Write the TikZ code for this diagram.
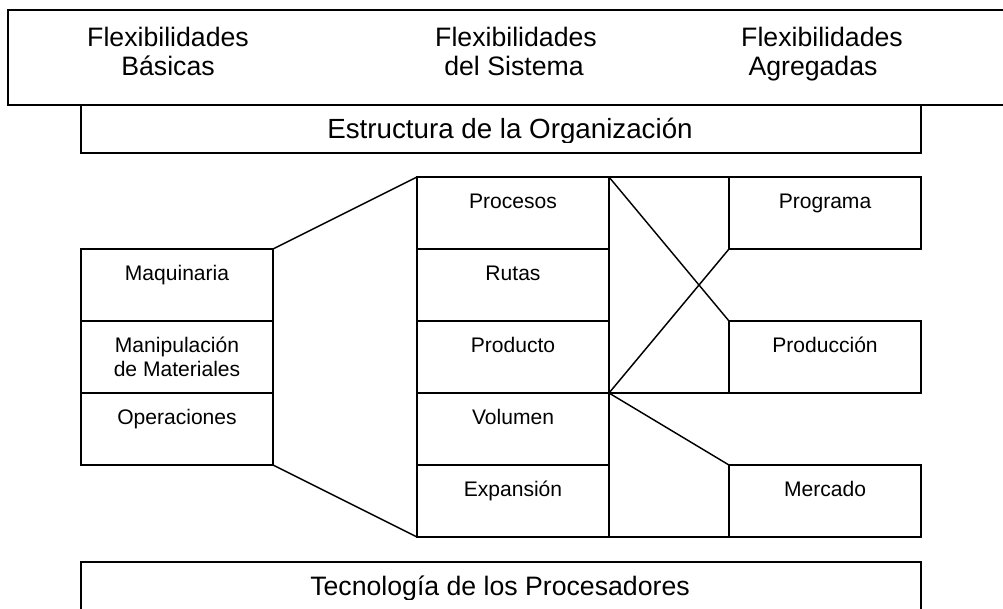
\documentclass[tikz,border=0pt]{standalone}
\usepackage{fontspec}
\setmainfont{Liberation Sans}
\usetikzlibrary{calc}
\begin{document}
\begin{tikzpicture}[x=0.75pt,y=-0.75pt,line width=1.1pt,
  cell/.style={draw,inner sep=0pt,outer sep=0pt,anchor=north west,minimum width=144pt,minimum height=54pt},
  band/.style={draw,inner sep=0pt,outer sep=0pt,anchor=north west},
  big/.style={font=\fontsize{20}{24}\selectfont,anchor=base,inner sep=0pt},
  small/.style={font=\fontsize{15.8}{19}\selectfont,anchor=base,inner sep=0pt}]
\clip (0,0) rectangle (1003,608);
\fill[white] (0,0) rectangle (1003,608);

% top band
\node[band,minimum width=759pt,minimum height=71.25pt] (top) at (8,10) {};
\node[big] (fb1) at (168,46) {Flexibilidades};
\node[big] (fb2) at (168,75.5) {Básicas};
\node[big] (fs1) at (516,46) {Flexibilidades};
\node[big] (fs2) at (514,75.5) {del Sistema};
\node[big] (fa1) at (822,46) {Flexibilidades};
\node[big] (fa2) at (813,75.5) {Agregadas};

% estructura
\node[band,minimum width=630pt,minimum height=36pt] (est) at (81,105) {};
\begin{scope}
\clip (81,105) rectangle (921,142);
\node[big,font=\fontsize{20.8}{24}\selectfont] (estt) at (510,138) {Estructura de la Organización};
\end{scope}

% tecnologia
\node[band,minimum width=630pt,minimum height=45pt] (tec) at (81,562) {};
\begin{scope}
\clip (81,562) rectangle (921,599.5);
\node[big] (tect) at (500,595) {Tecnología de los Procesadores};
\end{scope}

% left column
\node[cell] (maq) at (81,249) {};
\node[cell] (man) at (81,321) {};
\node[cell] (ope) at (81,393) {};
% middle column
\node[cell] (proc) at (417,177) {};
\node[cell] (rut) at (417,249) {};
\node[cell] (prd) at (417,321) {};
\node[cell] (vol) at (417,393) {};
\node[cell] (exp) at (417,465) {};
% right column
\node[cell] (prog) at (729,177) {};
\node[cell] (pron) at (729,321) {};
\node[cell] (merc) at (729,465) {};

% texts
\node[small] (maqt) at ($(maq.north)+(0,31)$) {Maquinaria};
\node[small] (mant1) at ($(man.north)+(0,31)$) {Manipulación};
\node[small] (mant2) at ($(man.north)+(0,55)$) {de Materiales};
\node[small] (opet) at ($(ope.north)+(0,31)$) {Operaciones};
\node[small] (proct) at ($(proc.north)+(0,31)$) {Procesos};
\node[small] (rutt) at ($(rut.north)+(0,31)$) {Rutas};
\node[small] (prdt) at ($(prd.north)+(0,31)$) {Producto};
\node[small] (volt) at ($(vol.north)+(0,31)$) {Volumen};
\node[small] (expt) at ($(exp.north)+(0,31)$) {Expansión};
\node[small] (progt) at ($(prog.north)+(0,31)$) {Programa};
\node[small] (pront) at ($(pron.north)+(0,31)$) {Producción};
\node[small] (merct) at ($(merc.north)+(0,31)$) {Mercado};

% connectors
\draw (maq.north east) -- (proc.north west);
\draw (ope.south east) -- (exp.south west);
\draw (proc.north east) -- (prog.north west);
\draw (vol.north east) -- (pron.south west);
\draw (exp.south east) -- (merc.south west);
\draw (proc.north east) -- (pron.north west);
\draw (vol.north east) -- (prog.south west);
\draw (vol.north east) -- (merc.north west);
\end{tikzpicture}
\end{document}
